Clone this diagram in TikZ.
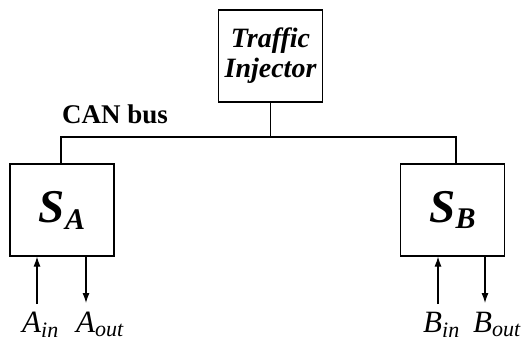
\documentclass[tikz,border=0pt]{standalone}
\usepackage{fontspec}
\setmainfont{Liberation Serif}
\usetikzlibrary{arrows.meta, positioning}

% lowered italic index after a letter
\newcommand{\lowsub}[2][22]{\raisebox{-0.35\height}{\fontsize{#1}{#1}\selectfont #2}}

\begin{document}
\begin{tikzpicture}[x=1pt, y=1pt, font=\fontsize{26}{30}\selectfont,
        box/.style={draw, line width=1.2pt, minimum width=104pt,
                    minimum height=92pt, align=center, inner sep=0pt},
        sig/.style={-{Latex[length=10pt,width=7pt]}, line width=1.1pt},
        io/.style={font=\fontsize{31}{34}\selectfont\itshape, inner sep=0pt, anchor=base west}]
      \useasboundingbox (0,0) rectangle (521,343);
      % stations and injector
      \node[box, font=\fontsize{28}{30}\selectfont\bfseries\itshape] (inj) at (270.5,287) {Traffic\\Injector};
      \node[box, font=\fontsize{47}{50}\selectfont\bfseries\itshape] (sa) at (62,133) {S\lowsub[30]{A}};
      \node[box, font=\fontsize{47}{50}\selectfont\bfseries\itshape] (sb) at (452.5,133) {S\lowsub[30]{B}};
      % bus
      \coordinate (busl) at (61,206);
      \coordinate (busr) at (456,206);
      \draw[line width=1.1pt] (sa.north -| busl) -- (busl) -- (busr) -- (sb.north -| busr);
      \draw[line width=1.1pt] (inj.south) -- (inj.south |- busl);
      \node[font=\fontsize{27}{30}\selectfont\bfseries, inner sep=0pt, anchor=base west] (can) at (62,219) {CAN bus};
      % inputs and outputs
      \coordinate (ain) at (37,39);
      \coordinate (aout) at (86,40);
      \coordinate (bin) at (438,39);
      \coordinate (bout) at (485,40);
      \draw[sig] (ain) -- (ain |- sa.south);
      \draw[sig] (sa.south -| aout) -- (aout);
      \draw[sig] (bin) -- (bin |- sb.south);
      \draw[sig] (sb.south -| bout) -- (bout);
      \node[io] (ainl) at (22,11) {A\lowsub{in}};
      \node[io] (aoutl) at (76,11) {A\lowsub{out}};
      \node[io] (binl) at (423,11) {B\lowsub{in}};
      \node[io] (boutl) at (473,11) {B\lowsub{out}};
    \end{tikzpicture}
\end{document}
